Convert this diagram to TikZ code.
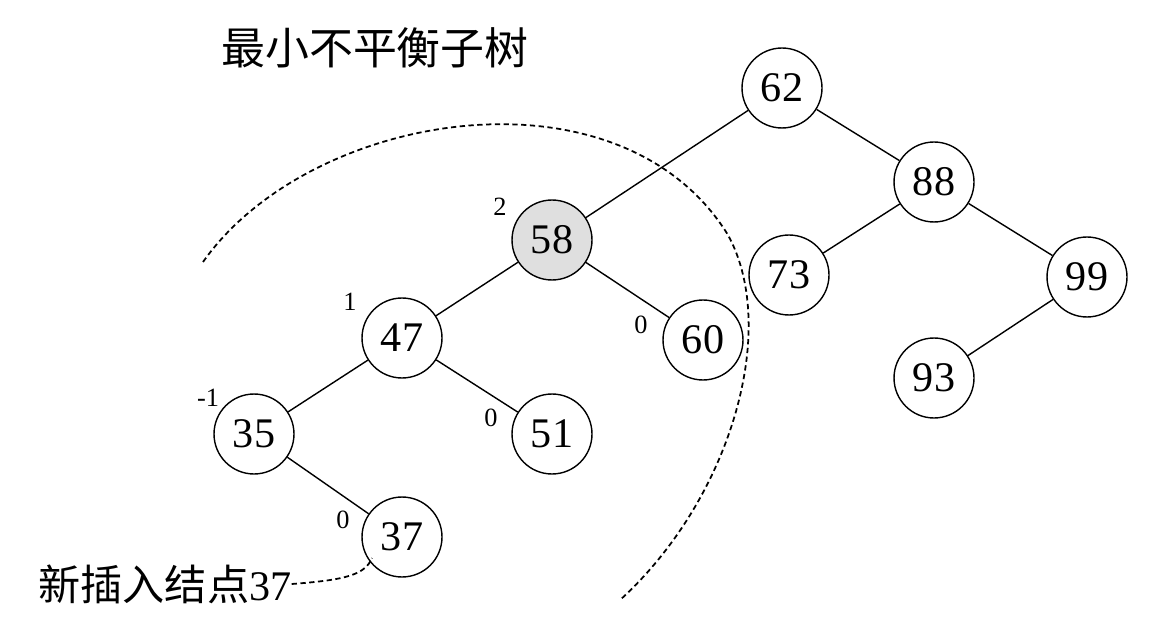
\documentclass[tikz,border=0pt]{standalone}
\usepackage{fontspec}
\setmainfont{Liberation Serif}
\newfontfamily\cjk{Noto Sans CJK SC}
\begin{document}
\begin{tikzpicture}[x=0.02cm,y=-0.02cm,
  nd/.style={circle,draw,thick,minimum size=1.6cm,inner sep=0pt,font=\fontsize{24}{24}\selectfont},
  bf/.style={font=\fontsize{15}{15}\selectfont},
  edge/.style={thick},
  dsh/.style={line width=1pt,dash pattern=on 3pt off 2pt}]
\useasboundingbox (0,0) rectangle (1152,631);
\node[nd] (n62) at (782,88) {62};
\node[nd] (n88) at (934,182) {88};
\node[nd,fill=gray!25] (n58) at (552,240) {58};
\node[nd] (n73) at (789,275) {73};
\node[nd] (n99) at (1087,277) {99};
\node[nd] (n47) at (402,338) {47};
\node[nd] (n60) at (703,340) {60};
\node[nd] (n93) at (934,378) {93};
\node[nd] (n35) at (254,434) {35};
\node[nd] (n51) at (552,434) {51};
\node[nd] (n37) at (402,537) {37};
\draw[edge] (n62)--(n58); \draw[edge] (n62)--(n88);
\draw[edge] (n88)--(n73); \draw[edge] (n88)--(n99);
\draw[edge] (n99)--(n93);
\draw[edge] (n58)--(n47); \draw[edge] (n58)--(n60);
\draw[edge] (n47)--(n35); \draw[edge] (n47)--(n51);
\draw[edge] (n35)--(n37);
\node[bf] (b58) at (500,207) {2};
\node[bf] (b47) at (350,302) {1};
\node[bf] (b60) at (641,325) {0};
\node[bf] (b35) at (208,398) {-1};
\node[bf] (b51) at (491,418) {0};
\node[bf] (b37) at (343,520) {0};
\node[font=\cjk\fontsize{25}{25}\selectfont] (title) at (375,48) {最小不平衡子树};
\node[anchor=west,inner sep=0pt,font=\fontsize{24}{24}\selectfont] (lbl) at (38,584) {{\cjk\fontsize{24}{24}\selectfont 新插入结点}37};
\coordinate (p37) at (372,558);
\draw[dsh] (lbl.east) .. controls (345,580) and (365,575) .. (p37);
\draw[dsh] (203,262) .. controls (310,110) and (620,60) .. (728,235)
  .. controls (780,330) and (730,500) .. (620,600);
\end{tikzpicture}
\end{document}
